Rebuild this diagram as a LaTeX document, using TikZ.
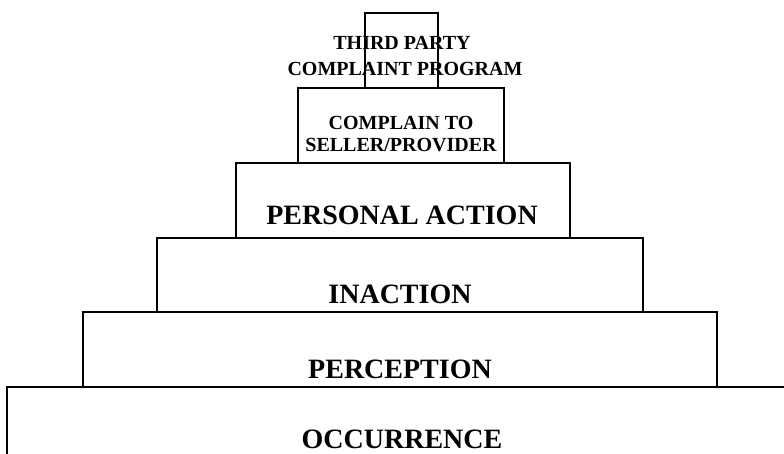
\documentclass[tikz,border=0pt]{standalone}
\usepackage{fontspec}
\setmainfont{Liberation Serif}
\begin{document}
\begin{tikzpicture}[x=1pt,y=-1pt,
  tier/.style={draw=black,line width=1.6pt},
  biglabel/.style={anchor=base,inner sep=0pt,text depth=0pt,font=\bfseries\fontsize{28}{30}\selectfont},
  smalllabel/.style={anchor=base,inner sep=0pt,font=\bfseries\fontsize{20}{22}\selectfont}]
\useasboundingbox (0,0) rectangle (784,454);
% stacked tiers of the pyramid, bottom to top
\draw[tier] (784,387) -- (7,387) -- (7,458);
\draw[tier] (83,387) rectangle (717,312);
\draw[tier] (157,312) rectangle (643,238);
\draw[tier] (236,238) rectangle (570,163);
\draw[tier] (298,163) rectangle (504,88);
\draw[tier] (365,88) rectangle (438,13);
% tier labels
\node[biglabel] (occ) at (402,448) {OCCURRENCE};
\node[biglabel] (perc) at (400,378) {PERCEPTION};
\node[biglabel] (inact) at (400,303) {INACTION};
\node[biglabel] (pers) at (402,225) {PERSONAL ACTION};
\node[smalllabel] (comp1) at (401,130) {COMPLAIN TO};
\node[smalllabel] (comp2) at (401,152) {SELLER/PROVIDER};
\node[smalllabel] (third1) at (402,50) {THIRD PARTY};
\node[smalllabel] (third2) at (405,76) {COMPLAINT PROGRAM};
\end{tikzpicture}
\end{document}
